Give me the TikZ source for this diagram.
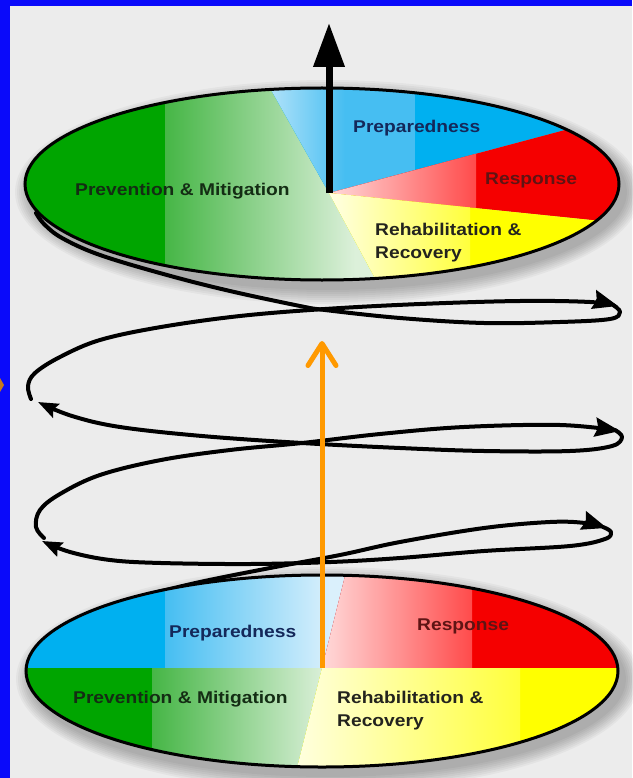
\documentclass[tikz,border=0pt]{standalone}
\usepackage{fontspec}
\newfontfamily\labfont{Liberation Sans}[FakeStretch=1.13]
\usetikzlibrary{arrows.meta}
\definecolor{bgc}{RGB}{236,236,236}
\definecolor{bord}{RGB}{10,10,250}
\definecolor{omark}{RGB}{200,120,30}
\definecolor{orangec}{RGB}{255,153,0}
\definecolor{gdark}{RGB}{0,165,0}
\definecolor{gmid}{RGB}{70,182,70}
\definecolor{gpale}{RGB}{220,240,218}
\definecolor{bdark}{RGB}{0,176,240}
\definecolor{bmid}{RGB}{70,190,242}
\definecolor{bpale}{RGB}{218,240,252}
\definecolor{rdark}{RGB}{245,0,0}
\definecolor{rmid}{RGB}{255,75,75}
\definecolor{rpale}{RGB}{255,218,218}
\definecolor{ydark}{RGB}{255,255,0}
\definecolor{ymid}{RGB}{255,255,60}
\definecolor{ypale}{RGB}{255,255,228}
\definecolor{tgreen}{RGB}{20,45,20}
\definecolor{tblue}{RGB}{20,40,90}
\definecolor{tred}{RGB}{95,20,20}
\definecolor{tdark}{RGB}{35,35,30}
\tikzset{
  lab/.style={font=\labfont\bfseries\fontsize{17}{23}\selectfont, inner sep=0pt, anchor=base west},
  spir/.style={line width=4pt, line cap=round, line join=round},
  rtip/.style={-{Stealth[length=25pt,width=19pt,inset=3pt]}},
  ltip/.style={-{Stealth[length=20pt,width=15pt,inset=3pt]}},
  rim/.style={line width=3pt},
}
\begin{document}
\begin{tikzpicture}[x=1pt,y=-1pt]
\useasboundingbox (0,0) rectangle (632,778);
\fill[bgc] (0,0) rectangle (632,778);
% shadows of discs
\foreach \i in {1,...,8} {
  \fill[black, opacity=0.035] (328,192) ellipse [x radius=297+\i*2, y radius=96+\i*2];
  \fill[black, opacity=0.035] (328,679) ellipse [x radius=296+\i*2, y radius=96+\i*2];
}
% coordinates
\coordinate (P) at (329,193);
\coordinate (Q) at (322,668);
% spiral
\draw[spir,rtip] plot[smooth,tension=0.6] coordinates {(150,594) (200,582) (270,568) (340,555) (400,542) (484,528) (550,522) (585,523) (607,528)};
\draw[spir,ltip] plot[smooth,tension=0.6] coordinates {(603,527) (611,532) (605,539) (570,546) (484,551) (400,558) (331,562) (250,564) (161,563) (110,560) (70,552) (42,541)};
\draw[spir,rtip] plot[smooth,tension=0.6] coordinates {(44,538) (36,527) (40,510) (60,494) (100,475) (161,460) (230,450) (302,443) (380,434) (464,427) (560,425) (620,431)};
\draw[spir,ltip] plot[smooth,tension=0.6] coordinates {(615,430) (622,437) (612,446) (570,451) (484,451) (400,448) (302,443) (202,436) (120,427) (72,416) (38,402)};
\draw[spir,rtip] plot[smooth,tension=0.6] coordinates {(31,399) (28,386) (35,373) (60,357) (100,340) (161,327) (240,316) (325,309) (420,304) (520,301) (590,302) (618,306)};
\draw[spir] plot[smooth,tension=0.6] coordinates {(613,305) (620,312) (610,319) (560,322) (484,323) (400,318) (325,310) (300,306) (230,291) (167,275) (100,255) (62,238) (44,224) (36,213)};
% ---------- top disc ----------
\begin{scope}
\clip (322,184) ellipse [x radius=297, y radius=96];
\begin{scope}
\clip (P) -- (243,40) -- (0,40) -- (0,330) -- (403,330) -- cycle;
\fill[gdark] (0,40) rectangle (640,330);
\shade[left color=gmid, right color=gpale] (165,40) rectangle (355,330);
\fill[gpale] (355,40) rectangle (410,330);
\end{scope}
\begin{scope}
\clip (P) -- (243,40) -- (640,40) -- (640,110) -- cycle;
\fill[bdark] (0,40) rectangle (640,330);
\shade[left color=bpale, right color=bmid] (240,40) rectangle (345,330);
\fill[bmid] (345,40) rectangle (415,330);
\end{scope}
\begin{scope}
\clip (P) -- (640,110) -- (640,225) -- cycle;
\fill[rdark] (0,40) rectangle (640,330);
\shade[left color=rpale, right color=rmid] (329,40) rectangle (476,330);
\end{scope}
\begin{scope}
\clip (P) -- (640,225) -- (640,330) -- (403,330) -- cycle;
\fill[ydark] (0,40) rectangle (640,330);
\shade[left color=ypale, right color=ymid] (329,40) rectangle (470,330);
\end{scope}
\end{scope}
\draw[rim] (322,184) ellipse [x radius=297, y radius=96];
% ---------- bottom disc ----------
\begin{scope}
\clip (322,671) ellipse [x radius=296, y radius=96];
\begin{scope}
\clip (Q) -- (349,560) -- (0,560) -- (0,668) -- cycle;
\fill[bdark] (0,560) rectangle (640,780);
\shade[left color=bmid, right color=bpale] (165,560) rectangle (330,780);
\fill[bpale] (330,560) rectangle (360,780);
\end{scope}
\begin{scope}
\clip (Q) -- (349,560) -- (640,560) -- (640,668) -- cycle;
\fill[rdark] (0,560) rectangle (640,780);
\shade[left color=rpale, right color=rmid] (322,560) rectangle (472,780);
\end{scope}
\begin{scope}
\clip (Q) -- (0,668) -- (0,780) -- (294,780) -- cycle;
\fill[gdark] (0,560) rectangle (640,780);
\shade[left color=gmid, right color=gpale] (152,560) rectangle (325,780);
\end{scope}
\begin{scope}
\clip (Q) -- (640,668) -- (640,780) -- (294,780) -- cycle;
\fill[ydark] (0,560) rectangle (640,780);
\shade[left color=ypale, right color=ymid] (290,560) rectangle (520,780);
\end{scope}
\end{scope}
\draw[rim] (322,671) ellipse [x radius=296, y radius=96];
% ---------- arrows ----------
\coordinate (topTip) at (329,23);
\coordinate (orTip) at (322,341);
\draw[line width=7pt, -{Triangle[length=44pt,width=30pt]}] (P) -- (topTip);
\draw[orangec, line width=5pt, -{Straight Barb[length=22pt,width=28pt,round]}] (Q) -- (orTip);
% ---------- labels ----------
\node[lab, text=tgreen] (tPM) at (75,195) {Prevention \& Mitigation};
\node[lab, text=tblue] (tPr) at (353,133) {Preparedness};
\node[lab, text=tred] (tRe) at (485,185) {Response};
\node[lab, text=tdark] (tRR1) at (375,235) {Rehabilitation \&};
\node[lab, text=tdark] (tRR2) at (375,258) {Recovery};
\node[lab, text=tblue] (bPr) at (169,637) {Preparedness};
\node[lab, text=tred] (bRe) at (417,630) {Response};
\node[lab, text=tgreen] (bPM) at (73,703) {Prevention \& Mitigation};
\node[lab, text=tdark] (bRR1) at (337,703) {Rehabilitation \&};
\node[lab, text=tdark] (bRR2) at (337,726) {Recovery};
% ---------- frame ----------
\fill[bord] (0,0) rectangle (10,778);
\fill[bord] (0,0) rectangle (632,6);
\fill[omark] (0,378) -- (4,385) -- (0,392) -- cycle;
\end{tikzpicture}
\end{document}
